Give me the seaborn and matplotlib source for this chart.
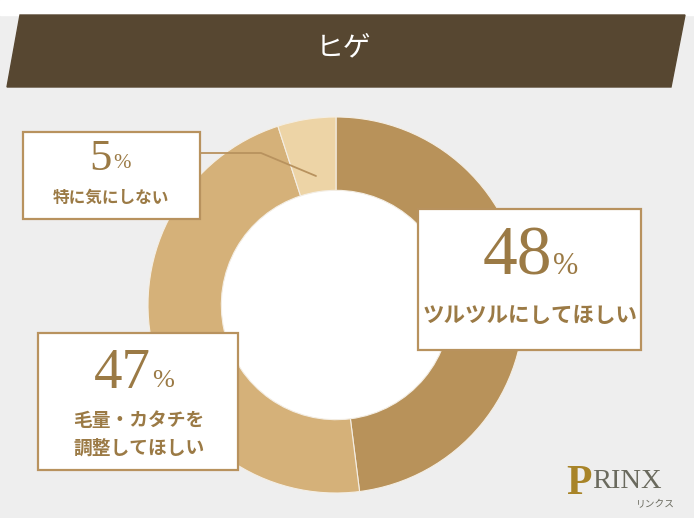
import matplotlib
matplotlib.use("Agg")
import matplotlib.pyplot as plt
import seaborn as sns
from matplotlib.patches import Polygon, Rectangle, Circle

sns.set_theme(style="white")
plt.rcParams['font.family'] = ['Noto Sans CJK JP', 'DejaVu Sans']

# ---- data ----
title = "ヒゲ"
categories = ["ツルツルにしてほしい", "毛量・カタチを\n調整してほしい", "特に気にしない"]
values = [48, 47, 5]
colors = ["#B8925A", "#D5B179", "#EDD4A6"]

W, H = 694, 518
fig = plt.figure(figsize=(W / 100, H / 100), dpi=100)
fig.patch.set_facecolor("#EEEEEE")

# donut
cx, cy, R = 336, 305, 188
ring = 0.39
ax = fig.add_axes([(cx - R) / W, (H - (cy + R)) / H, 2 * R / W, 2 * R / H])
ax.pie(values, colors=colors, startangle=90, counterclock=False, radius=1,
       wedgeprops=dict(width=ring, edgecolor="#F4EEE4", linewidth=0.8))
ax.add_patch(Circle((0, 0), 1 - ring, facecolor="white", edgecolor="none", zorder=0))
ax.set_xlim(-1, 1)
ax.set_ylim(-1, 1)
ax.set_aspect("equal")
ax.axis("off")

# overlay in pixel coords
ov = fig.add_axes([0, 0, 1, 1])
ov.set_xlim(0, W)
ov.set_ylim(H, 0)
ov.axis("off")
ov.patch.set_alpha(0)

ov.add_patch(Rectangle((0, 0), W, 15, color="white", zorder=1))
ov.add_patch(Polygon([(20, 15), (685, 15), (671, 87), (7, 87)], closed=True,
                     color="#574731", zorder=2))
ov.text(344, 47, title, color="white", fontsize=20, ha="center", va="center", zorder=3)

txt_c = "#9B7A45"
box_c = "#B8925E"

def box(x0, y0, x1, y1):
    ov.add_patch(Rectangle((x0, y0), x1 - x0, y1 - y0, facecolor="white",
                           edgecolor=box_c, linewidth=1.6, zorder=5))

serif = ['Liberation Serif', 'DejaVu Serif']

# leader line for 5%
ov.plot([197, 261, 316], [153, 153, 176], color=box_c, lw=1.3, zorder=4)

# 5% box
box(23, 132, 200, 219)
ov.text(112, 159, f"{values[2]}", family=serif, fontsize=32, color=txt_c,
        ha="right", va="center", zorder=6)
ov.text(113, 164, "%", family=serif, fontsize=15, color=txt_c,
        ha="left", va="center", zorder=6)
ov.text(111, 198, categories[2], fontsize=12, fontweight="bold", color=txt_c,
        ha="center", va="center", zorder=6)

# 48% box
box(418, 209, 641, 350)
ov.text(552, 258, f"{values[0]}", family=serif, fontsize=50, color=txt_c,
        ha="right", va="center", zorder=6)
ov.text(553, 266, "%", family=serif, fontsize=22, color=txt_c,
        ha="left", va="center", zorder=6)
ov.text(530, 315, categories[0], fontsize=15.5, fontweight="bold", color=txt_c,
        ha="center", va="center", zorder=6)

# 47% box
box(38, 333, 238, 470)
ov.text(151, 374, f"{values[1]}", family=serif, fontsize=41, color=txt_c,
        ha="right", va="center", zorder=6)
ov.text(152, 381, "%", family=serif, fontsize=19, color=txt_c,
        ha="left", va="center", zorder=6)
l1, l2 = categories[1].split("\n")
ov.text(139, 420, l1, fontsize=13.5, fontweight="bold", color=txt_c,
        ha="center", va="center", zorder=6)
ov.text(139, 448, l2, fontsize=13.5, fontweight="bold", color=txt_c,
        ha="center", va="center", zorder=6)

# logo
ov.text(579, 484, "P", family=serif, fontsize=30, fontweight="bold", color="#A88428",
        ha="center", va="center", zorder=6)
ov.text(592, 482, "RINX", family=serif, fontsize=20.5, color="#6A6A5E",
        ha="left", va="center", zorder=6)
ov.text(655, 504, "リンクス", fontsize=7, color="#6A6A5E",
        ha="center", va="center", zorder=6)

fig.savefig("out.png", dpi=100, facecolor=fig.get_facecolor())
